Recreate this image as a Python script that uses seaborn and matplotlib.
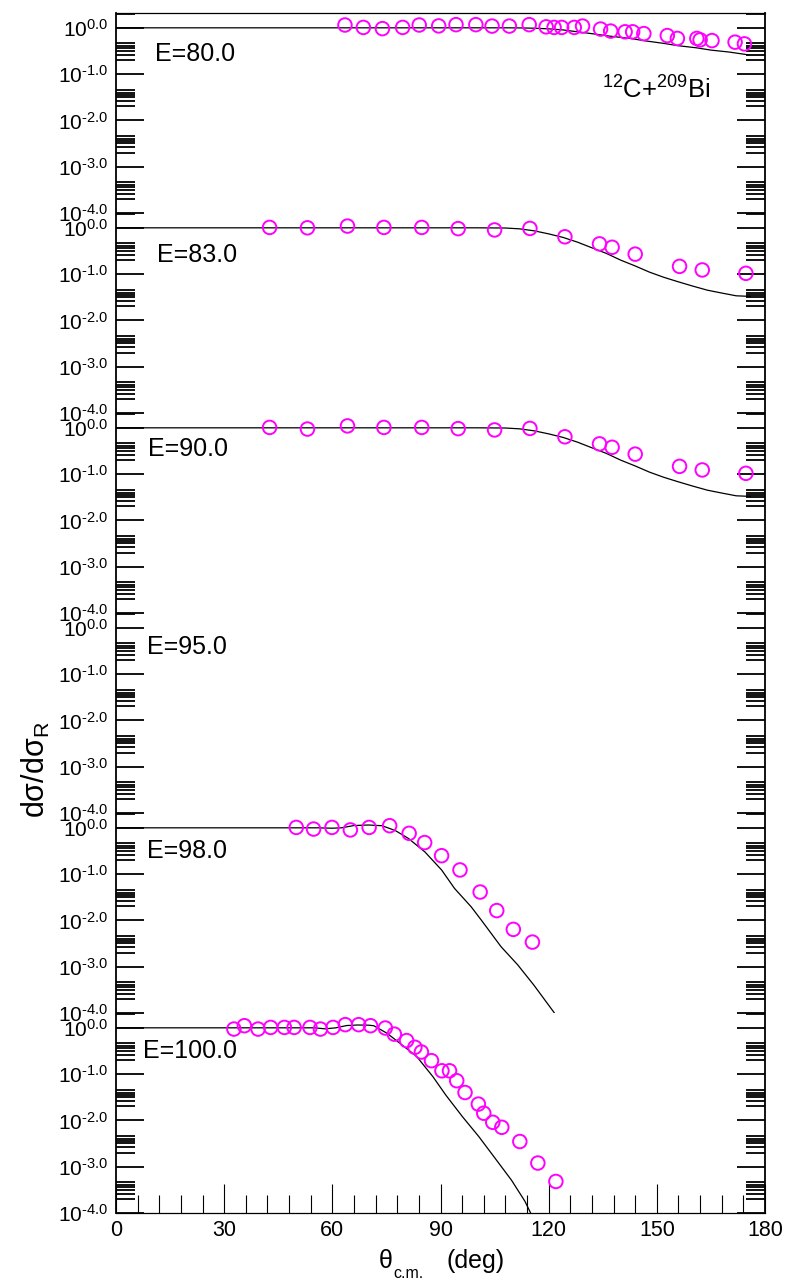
import matplotlib
matplotlib.use("Agg")
import matplotlib.pyplot as plt
import matplotlib.ticker as mticker
import seaborn as sns

sns.set_theme(style="ticks")
plt.rcParams["font.family"] = ["Liberation Sans", "DejaVu Sans"]
plt.rcParams["mathtext.fontset"] = "custom"
plt.rcParams["mathtext.rm"] = "Liberation Sans"
plt.rcParams["mathtext.it"] = "Liberation Sans:italic"
plt.rcParams["mathtext.bf"] = "Liberation Sans:bold"
for key in ("axes.edgecolor", "text.color", "xtick.color", "ytick.color", "axes.labelcolor"):
    plt.rcParams[key] = "black"

# ---------------------------------------------------------------------------
# 12C + 209Bi elastic scattering, ratio to Rutherford vs theta_cm (deg)
# ---------------------------------------------------------------------------
energy_labels = ["E=80.0", "E=83.0", "E=90.0", "E=95.0", "E=98.0", "E=100.0"]

# E = 80 MeV
exp_theta_80 = [63.5, 68.6, 73.9, 79.5, 84.1, 89.5, 94.3, 99.8, 104.3, 109.1, 114.6,
                119.3, 121.5, 123.6, 127.1, 129.4, 134.4, 137.2, 141.2, 143.3, 146.4,
                152.9, 155.7, 161.1, 162.0, 165.3, 171.7, 174.3]
exp_ratio_80 = [1.15, 1.02, 0.96, 1.02, 1.15, 1.10, 1.17, 1.17, 1.09, 1.09, 1.17,
                1.05, 1.02, 1.02, 1.02, 1.09, 0.94, 0.85, 0.82, 0.82, 0.75,
                0.68, 0.59, 0.59, 0.55, 0.53, 0.49, 0.45]
calc_theta_80 = [0, 108, 112, 116, 120, 124, 128, 133, 137, 142.6, 147, 152, 156, 161, 165, 170, 175.5]
calc_ratio_80 = [1.0, 1.0, 0.995, 0.98, 0.95, 0.90, 0.82, 0.73, 0.66, 0.59, 0.52, 0.46, 0.41,
                 0.37, 0.33, 0.30, 0.26]

# E = 83 MeV
exp_theta_83 = [42.6, 53.1, 64.2, 74.3, 84.8, 94.9, 105.0, 114.8, 124.5, 134.1, 137.6,
                144.0, 156.3, 162.6, 174.7]
exp_ratio_83 = [1.02, 1.00, 1.09, 1.02, 1.02, 0.96, 0.90, 0.97, 0.64, 0.45, 0.38,
                0.27, 0.147, 0.123, 0.104]
calc_theta_83 = [0, 100, 108, 112, 116, 120, 124, 128, 132, 136, 140, 144, 148, 152, 156,
                 160, 164, 168, 172, 176]
calc_ratio_83 = [1.0, 1.0, 0.99, 0.95, 0.86, 0.74, 0.62, 0.49, 0.37, 0.28, 0.20, 0.15, 0.11,
                 0.085, 0.068, 0.055, 0.045, 0.039, 0.034, 0.033]

# E = 90 MeV
exp_theta_90 = [42.6, 53.1, 64.2, 74.3, 84.8, 94.9, 105.0, 114.8, 124.5, 134.1, 137.6,
                144.0, 156.3, 162.6, 174.7]
exp_ratio_90 = [1.02, 0.94, 1.10, 1.02, 1.02, 0.96, 0.90, 0.97, 0.64, 0.45, 0.38,
                0.27, 0.147, 0.123, 0.104]
calc_theta_90 = [0, 100, 108, 112, 116, 120, 124, 128, 132, 136, 140, 144, 148, 152, 156,
                 160, 164, 168, 172, 176]
calc_ratio_90 = [1.0, 1.0, 0.99, 0.95, 0.86, 0.74, 0.62, 0.49, 0.37, 0.28, 0.20, 0.15, 0.11,
                 0.085, 0.068, 0.055, 0.045, 0.039, 0.034, 0.033]

# E = 95 MeV (no data)
exp_theta_95 = []
exp_ratio_95 = []
calc_theta_95 = []
calc_ratio_95 = []

# E = 98 MeV
exp_theta_98 = [50.0, 54.8, 59.9, 65.0, 70.2, 75.9, 81.3, 85.6, 90.3, 95.4, 101.0, 105.6,
                110.2, 115.5]
exp_ratio_98 = [1.02, 0.94, 1.02, 0.90, 1.02, 1.11, 0.76, 0.48, 0.25, 0.123, 0.041, 0.0163,
                0.0064, 0.0034]
calc_theta_98 = [0, 56, 60, 62.5, 66, 70, 73.8, 77.5, 81.1, 85.7, 90.3, 93.9, 98.5, 101.3,
                 106.8, 111.4, 115.9, 121.6]
calc_ratio_98 = [1.0, 1.0, 0.98, 1.0, 1.12, 1.15, 1.11, 0.87, 0.59, 0.30, 0.123, 0.049, 0.0197,
                 0.0102, 0.0027, 0.0011, 0.0004, 0.0001]

# E = 100 MeV
exp_theta_100 = [32.7, 35.6, 39.4, 42.9, 46.7, 49.4, 53.8, 56.7, 60.2, 63.6, 67.3, 70.6,
                 74.7, 77.2, 80.6, 82.9, 84.7, 87.5, 90.4, 92.5, 94.5, 96.8, 100.5, 102.0,
                 104.5, 107.0, 112.0, 117.0, 122.0]
exp_ratio_100 = [0.94, 1.11, 0.94, 1.02, 1.02, 1.02, 1.02, 0.94, 1.02, 1.17, 1.17, 1.11,
                 0.99, 0.73, 0.53, 0.38, 0.30, 0.195, 0.118, 0.118, 0.072, 0.040, 0.0225,
                 0.0143, 0.0091, 0.0071, 0.0035, 0.0012, 0.00048]
calc_theta_100 = [0, 55, 58, 61, 64, 67, 70, 71.5, 75.2, 78.8, 83.4, 87.9, 91.5, 96.1, 100.6,
                  105.2, 109.7, 113.4, 115.0]
calc_ratio_100 = [1.0, 1.0, 0.95, 1.0, 1.12, 1.15, 1.14, 1.11, 0.76, 0.46, 0.24, 0.088, 0.035,
                  0.012, 0.0045, 0.0015, 0.00051, 0.00018, 0.0001]

panels = [
    (exp_theta_80, exp_ratio_80, calc_theta_80, calc_ratio_80),
    (exp_theta_83, exp_ratio_83, calc_theta_83, calc_ratio_83),
    (exp_theta_90, exp_ratio_90, calc_theta_90, calc_ratio_90),
    (exp_theta_95, exp_ratio_95, calc_theta_95, calc_ratio_95),
    (exp_theta_98, exp_ratio_98, calc_theta_98, calc_ratio_98),
    (exp_theta_100, exp_ratio_100, calc_theta_100, calc_ratio_100),
]

decade_ticks = [1e-4, 1e-3, 1e-2, 1e-1, 1e0]
decade_labels = [r"$10^{\text{-4.0}}$", r"$10^{\text{-3.0}}$", r"$10^{\text{-2.0}}$",
                 r"$10^{\text{-1.0}}$", r"$10^{\text{0.0}}$"]
x_major = [0, 30, 60, 90, 120, 150, 180]

# ---------------------------------------------------------------------------
# layout (pixel geometry of a 795 x 1283 canvas)
# ---------------------------------------------------------------------------
W, H = 795, 1283
x0, x1 = 116, 765
y_top, panel_h = 13, 200
n_panels = len(panels)
ymax = 10 ** 0.32

fig = plt.figure(figsize=(W / 100, H / 100), dpi=100)

# outer frame carrying the shared angle axis
frame = fig.add_axes([x0 / W, 1 - (y_top + n_panels * panel_h) / H,
                      (x1 - x0) / W, n_panels * panel_h / H])
frame.set_xlim(0, 180)
frame.set_ylim(0, 1)
frame.set_yticks([])
frame.set_xticks(x_major)
frame.xaxis.set_minor_locator(mticker.MultipleLocator(6))
frame.tick_params(axis="x", which="major", direction="in", length=21, width=0.8,
                  labelsize=15.5, pad=5)
frame.tick_params(axis="x", which="minor", direction="in", length=13, width=0.8)
for side in ("left", "right"):
    frame.spines[side].set_linewidth(1.3)
for side in ("top", "bottom"):
    frame.spines[side].set_linewidth(0.9)

# angle axis title: theta with c.m. subscript, then the unit
fig.text(379 / W, 1 - 1268 / H, "θ", fontsize=18, ha="left", va="baseline")
fig.text(393 / W, 1 - 1278 / H, "c.m.", fontsize=11.5, ha="left", va="baseline")
fig.text(446 / W, 1 - 1268 / H, "(deg)", fontsize=18, ha="left", va="baseline")

label_pos = [(155, 54), (157, 255), (148, 449), (147, 647), (147, 851), (143, 1051)]

for k, (et, er, ct, cr) in enumerate(panels):
    bottom_px = y_top + (k + 1) * panel_h
    ax = fig.add_axes([x0 / W, 1 - bottom_px / H, (x1 - x0) / W, panel_h / H])
    ax.patch.set_alpha(0)
    for s in ax.spines.values():
        s.set_visible(False)
    ax.set_yscale("log")
    ax.set_xlim(0, 180)
    ax.set_ylim(1e-4, ymax)

    if ct:
        sns.lineplot(x=ct, y=cr, ax=ax, color="black", lw=0.9, estimator=None, sort=False)
    if et:
        sns.scatterplot(x=et, y=er, ax=ax, marker="o", s=95, color="#ff00ff",
                        facecolor="none", edgecolor="#ff00ff", linewidth=1.4,
                        clip_on=False, zorder=3)

    ax.set_xticks([])
    ax.set_xlabel("")
    ax.set_ylabel("")
    ax.yaxis.set_major_locator(mticker.FixedLocator(decade_ticks))
    ax.yaxis.set_major_formatter(mticker.FixedFormatter(decade_labels))
    ax.yaxis.set_minor_locator(mticker.LogLocator(base=10, subs=(2.0, 2.6, 3.2, 3.6, 4.0, 4.6)))
    ax.yaxis.set_minor_formatter(mticker.NullFormatter())
    ax.tick_params(axis="y", which="major", direction="in", length=20, width=1.3,
                   left=True, right=True, labelleft=True, labelright=False,
                   labelsize=15, pad=5.5)
    ax.tick_params(axis="y", which="minor", direction="in", length=13.5, width=1.3,
                   left=True, right=True)

    lx, ly = label_pos[k]
    ax.text((lx - x0) / (x1 - x0), 1 - (ly - (bottom_px - panel_h)) / panel_h,
            energy_labels[k], transform=ax.transAxes, fontsize=18,
            ha="left", va="center")

    if k == 0:
        ax.text((602 - x0) / (x1 - x0), 1 - (99 - y_top) / panel_h,
                r"$^{12}$C+$^{209}$Bi", transform=ax.transAxes, fontsize=18.5,
                ha="left", va="baseline")

fig.text(36 / W, 1 - 770 / H, r"dσ/dσ$_{\mathrm{R}}$", rotation=90,
         fontsize=22, ha="center", va="center")

fig.savefig("out.png", dpi=100, facecolor="white")
